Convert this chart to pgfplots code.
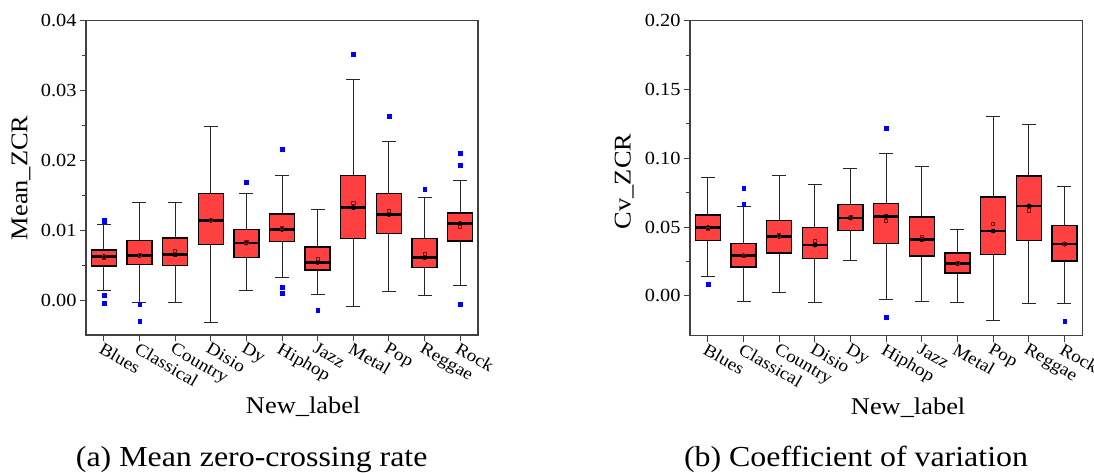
\documentclass[border=0pt]{standalone}
\usepackage{pgfplots}
\usepackage{pgfplotstable}
\pgfplotsset{compat=1.18}
\usepackage{fontspec}
\setmainfont{Liberation Serif}[FakeStretch=1.1]
\definecolor{boxred}{RGB}{255,64,64}
\definecolor{meanc}{RGB}{120,20,20}

% box statistics: position, lower whisker, Q1, median, Q3, upper whisker, mean
\pgfplotstableread{
pos lw q1 med q3 uw avg
0 0.00143 0.00486 0.00629 0.00733 0.01086 0.0062
1 -0.00024 0.00505 0.00648 0.00871 0.01405 0.0065
2 -0.0002 0.00495 0.00657 0.00905 0.0140 0.0071
3 -0.0031 0.0079 0.01148 0.01538 0.02486 0.0115
4 0.00143 0.00605 0.00824 0.01029 0.01533 0.0084
5 0.00338 0.00833 0.01019 0.01248 0.01786 0.0104
6 0.00086 0.00429 0.00548 0.00776 0.0130 0.0060
7 -0.0009 0.00876 0.01329 0.01795 0.03157 0.0140
8 0.00138 0.00948 0.01233 0.01543 0.02276 0.0128
9 0.00071 0.00462 0.00614 0.00895 0.01476 0.0067
10 0.0021 0.00843 0.0110 0.01262 0.01724 0.0106
}\statA
\pgfplotstableread{
pos val
0 0.0116
0 0.0113
0 0.00081
0 -0.00038
1 -0.00048
1 -0.00295
4 0.0170
5 0.02167
5 0.0019
5 0.0011
6 -0.00133
7 0.0352
8 0.02643
9 0.0159
10 0.02105
10 0.01938
10 -0.00052
}\outA
\pgfplotstableread{
pos lw q1 med q3 uw avg
0 0.0141 0.0396 0.0495 0.0592 0.0857 0.049
1 -0.0044 0.0204 0.0291 0.0383 0.0646 0.029
2 0.0022 0.0306 0.0432 0.0551 0.0874 0.044
3 -0.0046 0.0267 0.0369 0.050 0.0808 0.0398
4 0.026 0.0468 0.0566 0.0667 0.0922 0.0575
5 -0.0024 0.0376 0.0578 0.0677 0.1032 0.0544
6 -0.0039 0.0284 0.0408 0.0578 0.0942 0.0427
7 -0.0051 0.016 0.0233 0.0316 0.0483 0.0238
8 -0.018 0.0294 0.0471 0.0723 0.1301 0.0522
9 -0.0053 0.0398 0.0653 0.0876 0.1245 0.0621
10 -0.0053 0.0248 0.0376 0.0515 0.0796 0.0376
}\statB
\pgfplotstableread{
pos val
0 0.0085
1 0.0784
1 0.0665
5 0.1221
5 -0.0153
10 -0.0184
}\outB

\pgfplotsset{
  zcr/.style={
    scale only axis,
    xmin=-0.5, xmax=10.5,
    xtick={0,1,2,3,4,5,6,7,8,9,10},
    xticklabels={Blues,Classical,Country,Disio,Dy,Hiphop,Jazz,Metal,Pop,Reggae,Rock},
    xtick pos=left, ytick pos=left, tick align=outside,
    major tick length=6pt, minor tick length=4pt,
    minor y tick num=1,
    scaled y ticks=false,
    axis line style={line width=1.1pt, black!75},
    every tick/.style={black!75, line width=1pt},
    xticklabel style={rotate=-30, anchor=north west, font=\fontsize{17.5}{20}\selectfont, inner sep=0.5pt},
    yticklabel style={font=\fontsize{18.5}{21}\selectfont},
    /pgf/number format/fixed,
    /pgf/number format/fixed zerofill,
    /pgf/number format/precision=2,
    /pgf/number format/assume math mode=true,
    label style={font=\fontsize{24}{28}\selectfont},
  },
  whisk/.style={only marks, mark=none,
    error bars/.cd, y dir=both, y explicit,
    error bar style={draw=black!85, line width=1pt},
    error mark=|, error mark options={draw=black!85, line width=1pt, mark size=7pt}},
  boxout/.style={only marks, mark=none,
    error bars/.cd, y dir=both, y explicit,
    error bar style={draw=black, line width=26.3pt},
    error mark=none},
  boxin/.style={only marks, mark=none,
    error bars/.cd, y dir=both, y explicit,
    error bar style={draw=boxred, line width=23.7pt, shorten <=1.3pt, shorten >=1.3pt},
    error mark=none},
  medl/.style={only marks, mark=-, mark size=12.6pt, mark options={draw=black, line width=1.3pt}},
  meanm/.style={only marks, mark=square, mark size=1.6pt, mark options={draw=meanc, fill=none, line width=0.6pt}},
  outm/.style={only marks, mark=square*, mark size=1.9pt, mark options={draw=blue, fill=blue, line width=0.1pt}},
}
\newcommand\boxes[2]{%
  \addplot[whisk] table[x=pos, y=med, y error plus expr=\thisrow{uw}-\thisrow{med}, y error minus expr=\thisrow{med}-\thisrow{lw}] {#1};
  \addplot[boxout] table[x=pos, y=med, y error plus expr=\thisrow{q3}-\thisrow{med}, y error minus expr=\thisrow{med}-\thisrow{q1}] {#1};
  \addplot[boxin] table[x=pos, y=med, y error plus expr=\thisrow{q3}-\thisrow{med}, y error minus expr=\thisrow{med}-\thisrow{q1}] {#1};
  \addplot[medl] table[x=pos, y=med] {#1};
  \addplot[meanm] table[x=pos, y=avg] {#1};
  \addplot[outm] table[x=pos, y=val] {#2};
}
\begin{document}
\begin{tikzpicture}
\useasboundingbox (0,0) rectangle (1094pt,473pt);
% ---------------- (a) Mean ZCR ----------------
\begin{axis}[zcr, at={(86pt,138pt)}, anchor=south west, width=392pt, height=314.3pt,
  ymin=-0.0049, ymax=0.04, ytick={0,0.01,0.02,0.03,0.04},
  xlabel={New\_label}, ylabel={Mean\_ZCR},
  xlabel style={at={(axis description cs:0.554,-0.229)}, anchor=center},
  ylabel style={at={(axis description cs:-0.166,0.5)}, anchor=center}]
\boxes{\statA}{\outA}
\end{axis}
% ---------------- (b) Cv ZCR ----------------
\begin{axis}[zcr, at={(690pt,137.3pt)}, anchor=south west, width=392.3pt, height=315pt,
  ymin=-0.029, ymax=0.20, ytick={0,0.05,0.10,0.15,0.20},
  xlabel={New\_label}, ylabel={Cv\_ZCR},
  xlabel style={at={(axis description cs:0.556,-0.23)}, anchor=center},
  ylabel style={at={(axis description cs:-0.168,0.49)}, anchor=center}]
\boxes{\statB}{\outB}
\end{axis}
\node[anchor=base, font=\fontsize{29}{33}\selectfont] at (251.7pt,6pt) {(a) Mean zero-crossing rate};
\node[anchor=base, font=\fontsize{29}{33}\selectfont] at (856pt,6pt) {(b) Coefficient of variation};
\end{tikzpicture}
\end{document}
